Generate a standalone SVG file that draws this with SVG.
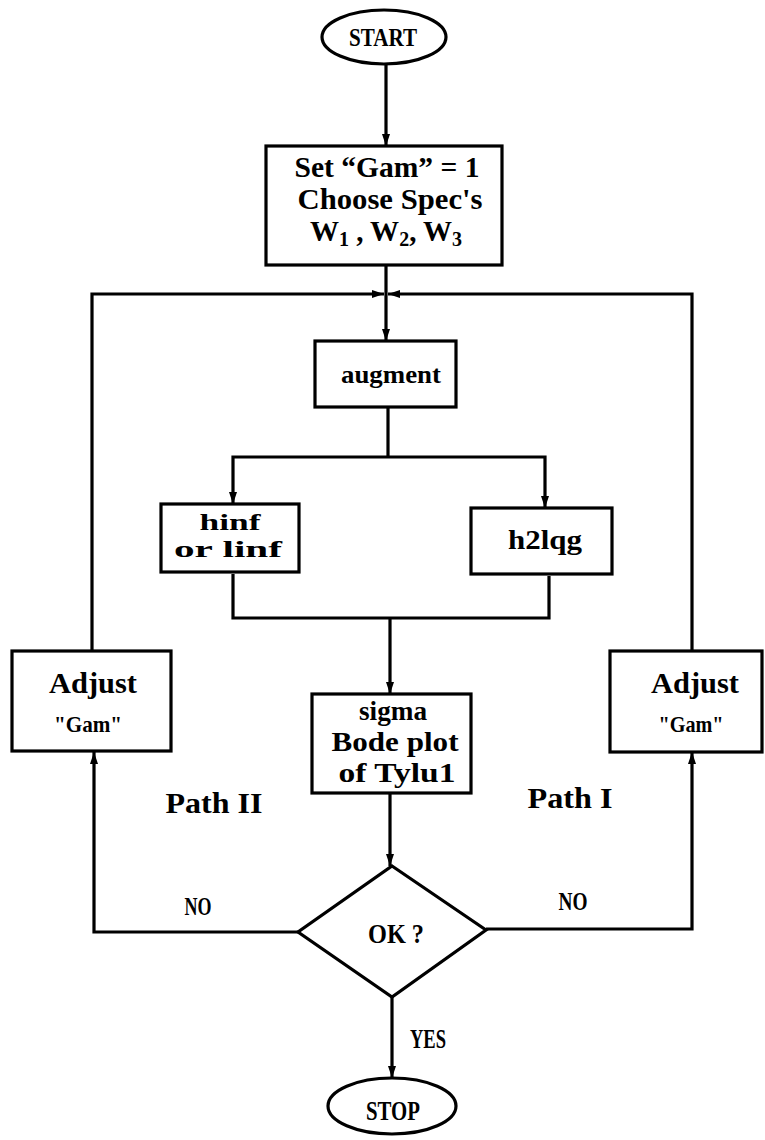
<svg xmlns="http://www.w3.org/2000/svg" width="765" height="1140" viewBox="0 0 765 1140">
<style>
.sh{fill:#fff;stroke:#000;stroke-width:3.2}
.cn{fill:none;stroke:#000;stroke-width:3.2}
.t{font-family:"Liberation Serif","Times New Roman",serif;font-weight:bold;fill:#000;text-anchor:middle}
</style>
<defs>
<marker id="arr" markerUnits="userSpaceOnUse" markerWidth="14" markerHeight="9" refX="12" refY="4.5" orient="auto">
<path d="M0,0.5 L12,4.5 L0,8.5 z" fill="#000"/>
</marker>
</defs>
<rect width="765" height="1140" fill="#fff"/>
<g id="connectors">
<path class="cn" d="M386,64 V146" marker-end="url(#arr)"/>
<path class="cn" d="M386,265 V341" marker-end="url(#arr)"/>
<path class="cn" d="M92,651 V294 H384" marker-end="url(#arr)"/>
<path class="cn" d="M692,651 V294 H388" marker-end="url(#arr)"/>
<path class="cn" d="M388,407 V457"/>
<path class="cn" d="M388,457 H233 V504" marker-end="url(#arr)"/>
<path class="cn" d="M388,457 H545 V508" marker-end="url(#arr)"/>
<path class="cn" d="M233,574 V618 H549 V576"/>
<path class="cn" d="M390,618 V694" marker-end="url(#arr)"/>
<path class="cn" d="M390,793 V866" marker-end="url(#arr)"/>
<path class="cn" d="M298,932 H94 V752" marker-end="url(#arr)"/>
<path class="cn" d="M486,929 H692 V752" marker-end="url(#arr)"/>
<path class="cn" d="M392,997 V1078" marker-end="url(#arr)"/>
</g>
<g id="start">
<ellipse class="sh" cx="384" cy="37" rx="62" ry="27"/>
<text class="t" x="383" y="46" font-size="25" textLength="68" lengthAdjust="spacingAndGlyphs">START</text>
</g>
<g id="init">
<rect class="sh" x="266" y="146" width="236" height="119"/>
<text class="t" x="387" y="177" font-size="29" textLength="185" lengthAdjust="spacingAndGlyphs">Set “Gam” = 1</text>
<text class="t" x="390" y="209" font-size="29" textLength="185" lengthAdjust="spacingAndGlyphs">Choose Spec's</text>
<text class="t" x="386" y="241" font-size="29">W<tspan font-size="20" dy="5">1</tspan><tspan dy="-5"> , W</tspan><tspan font-size="20" dy="5">2</tspan><tspan dy="-5">, W</tspan><tspan font-size="20" dy="5">3</tspan></text>
</g>
<g id="augment">
<rect class="sh" x="315" y="341" width="141" height="66"/>
<text class="t" x="391" y="383" font-size="26" textLength="100" lengthAdjust="spacingAndGlyphs">augment</text>
</g>
<g id="hinf">
<rect class="sh" x="161" y="504" width="138" height="68"/>
<text class="t" x="230" y="530" font-size="23" textLength="61" lengthAdjust="spacingAndGlyphs">hinf</text>
<text class="t" x="228" y="557" font-size="23" textLength="108" lengthAdjust="spacingAndGlyphs">or linf</text>
</g>
<g id="h2lqg">
<rect class="sh" x="471" y="508" width="141" height="66"/>
<text class="t" x="545" y="549" font-size="27" textLength="74" lengthAdjust="spacingAndGlyphs">h2lqg</text>
</g>
<g id="sigma">
<rect class="sh" x="312" y="694" width="159" height="99"/>
<text class="t" x="393" y="720" font-size="27" textLength="68" lengthAdjust="spacingAndGlyphs">sigma</text>
<text class="t" x="395" y="751" font-size="27" textLength="127" lengthAdjust="spacingAndGlyphs">Bode plot</text>
<text class="t" x="397" y="782" font-size="27" textLength="117" lengthAdjust="spacingAndGlyphs">of Tylu1</text>
</g>
<g id="adjust2">
<rect class="sh" x="12" y="651" width="159" height="100"/>
<text class="t" x="93" y="693" font-size="29" textLength="88" lengthAdjust="spacingAndGlyphs">Adjust</text>
<text class="t" x="88" y="732" font-size="24" textLength="68" lengthAdjust="spacingAndGlyphs">"Gam"</text>
</g>
<g id="adjust1">
<rect class="sh" x="610" y="651" width="152" height="101"/>
<text class="t" x="695" y="693" font-size="29" textLength="88" lengthAdjust="spacingAndGlyphs">Adjust</text>
<text class="t" x="691" y="732" font-size="24" textLength="65" lengthAdjust="spacingAndGlyphs">"Gam"</text>
</g>
<g id="ok">
<polygon class="sh" points="392,866 486,930 392,997 298,932"/>
<text class="t" x="396" y="943" font-size="27" textLength="56" lengthAdjust="spacingAndGlyphs">OK ?</text>
</g>
<g id="stop">
<ellipse class="sh" cx="392" cy="1106" rx="64" ry="28"/>
<text class="t" x="393" y="1120" font-size="28" textLength="54" lengthAdjust="spacingAndGlyphs">STOP</text>
</g>
<g id="labels">
<text class="t" x="214" y="813" font-size="30" textLength="97" lengthAdjust="spacingAndGlyphs">Path II</text>
<text class="t" x="570" y="808" font-size="30" textLength="85" lengthAdjust="spacingAndGlyphs">Path I</text>
<text class="t" x="198" y="915" font-size="26" textLength="27" lengthAdjust="spacingAndGlyphs">NO</text>
<text class="t" x="573" y="910" font-size="26" textLength="29" lengthAdjust="spacingAndGlyphs">NO</text>
<text class="t" x="428" y="1048" font-size="28" textLength="36" lengthAdjust="spacingAndGlyphs">YES</text>
</g>
</svg>
